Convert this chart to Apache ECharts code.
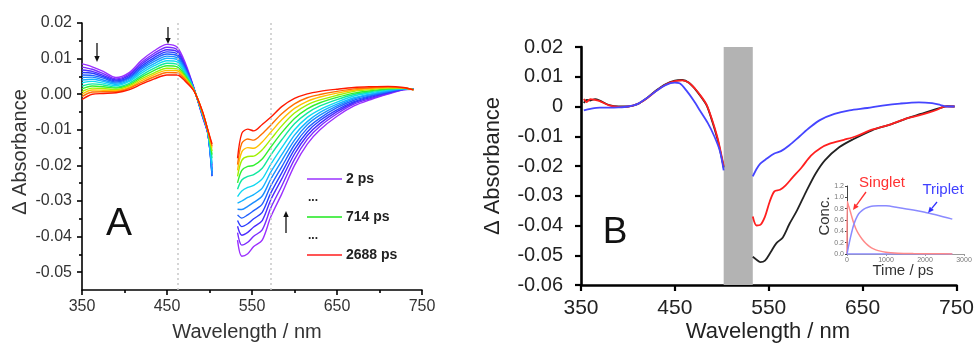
<!DOCTYPE html>
<html><head><meta charset="utf-8">
<script src="https://cdn.jsdelivr.net/npm/echarts@6/dist/echarts.min.js"></script>
<style>html,body{margin:0;padding:0;background:#fff}#c{width:977px;height:344px}</style>
</head><body><div id="c"></div>
<script>
// ---------- Panel A: transient spectra (2 ps ... 2688 ps) ----------
const wlA_L = [350,362,375,390,405,420,435,450,462,472,482,492,498,503];
const wlA_R = [533,538,545,552,562,572,585,600,615,630,650,670,690,710,728,740];
const specL = [
 [.0085,.0077,.0064,.0047,.0060,.0095,.0122,.0140,.0132,.0085,.0015,-.0065,-.0110,-.0200],
 [.0076,.0070,.0058,.0043,.0056,.0089,.0115,.0132,.0125,.0080,.0014,-.0064,-.0110,-.0210],
 [.0068,.0064,.0053,.0040,.0052,.0084,.0109,.0125,.0119,.0076,.0014,-.0062,-.0110,-.0220],
 [.0061,.0059,.0049,.0037,.0048,.0079,.0103,.0119,.0113,.0073,.0013,-.0061,-.0109,-.0230],
 [.0054,.0053,.0045,.0034,.0045,.0074,.0098,.0113,.0108,.0069,.0013,-.0060,-.0108,-.0230],
 [.0047,.0048,.0040,.0031,.0042,.0070,.0092,.0107,.0102,.0066,.0012,-.0059,-.0107,-.0225],
 [.0040,.0042,.0036,.0028,.0038,.0065,.0086,.0101,.0097,.0062,.0012,-.0058,-.0106,-.0215],
 [.0032,.0036,.0031,.0024,.0035,.0059,.0080,.0094,.0091,.0058,.0011,-.0057,-.0105,-.0195],
 [.0023,.0029,.0026,.0020,.0030,.0053,.0073,.0087,.0084,.0054,.0011,-.0056,-.0104,-.0180],
 [.0015,.0023,.0021,.0017,.0026,.0048,.0067,.0080,.0077,.0050,.0010,-.0054,-.0103,-.0170],
 [.0007,.0017,.0016,.0013,.0023,.0043,.0060,.0073,.0071,.0046,.0010,-.0053,-.0102,-.0160],
 [.0000,.0012,.0011,.0010,.0019,.0038,.0055,.0067,.0066,.0042,.0009,-.0052,-.0101,-.0150],
 [-.0007,.0006,.0007,.0007,.0016,.0033,.0049,.0061,.0060,.0039,.0009,-.0051,-.0101,-.0145],
 [-.0015,.0000,.0002,.0004,.0012,.0028,.0043,.0054,.0054,.0035,.0008,-.0050,-.0100,-.0140]
];
const specR = [
 [-.0410,-.0455,-.0448,-.0428,-.0410,-.0345,-.0280,-.0200,-.0140,-.0100,-.0062,-.0033,-.0015,.0000,.0012,.0015],
 [-.0389,-.0424,-.0416,-.0399,-.0381,-.0320,-.0258,-.0183,-.0127,-.0090,-.0055,-.0028,-.0012,.0002,.0013,.0015],
 [-.0371,-.0396,-.0388,-.0373,-.0355,-.0297,-.0238,-.0168,-.0116,-.0082,-.0049,-.0024,-.0009,.0004,.0013,.0014],
 [-.0355,-.0372,-.0364,-.0350,-.0332,-.0278,-.0221,-.0155,-.0106,-.0074,-.0044,-.0021,-.0006,.0005,.0014,.0014],
 [-.0339,-.0348,-.0339,-.0327,-.0309,-.0258,-.0204,-.0142,-.0096,-.0067,-.0038,-.0017,-.0004,.0007,.0014,.0014],
 [-.0323,-.0324,-.0315,-.0304,-.0286,-.0239,-.0187,-.0129,-.0086,-.0059,-.0033,-.0013,-.0001,.0008,.0015,.0014],
 [-.0306,-.0300,-.0290,-.0282,-.0264,-.0219,-.0170,-.0115,-.0077,-.0051,-.0028,-.0010,.0001,.0010,.0015,.0014],
 [-.0288,-.0272,-.0262,-.0256,-.0238,-.0197,-.0150,-.0100,-.0065,-.0043,-.0022,-.0005,.0004,.0012,.0016,.0013],
 [-.0267,-.0241,-.0231,-.0226,-.0208,-.0171,-.0128,-.0083,-.0053,-.0033,-.0015,-.0001,.0007,.0014,.0016,.0013],
 [-.0249,-.0214,-.0203,-.0200,-.0182,-.0149,-.0108,-.0068,-.0041,-.0024,-.0009,.0003,.0010,.0015,.0017,.0013],
 [-.0231,-.0186,-.0175,-.0174,-.0156,-.0127,-.0089,-.0053,-.0030,-.0016,-.0003,.0008,.0013,.0017,.0017,.0013],
 [-.0214,-.0162,-.0150,-.0152,-.0134,-.0107,-.0072,-.0040,-.0020,-.0008,.0003,.0011,.0016,.0019,.0018,.0012],
 [-.0198,-.0138,-.0126,-.0129,-.0111,-.0087,-.0055,-.0027,-.0010,-.0001,.0008,.0015,.0018,.0020,.0018,.0012],
 [-.0180,-.0110,-.0098,-.0103,-.0085,-.0065,-.0035,-.0012,.0001,.0008,.0014,.0019,.0021,.0022,.0019,.0012]
];
const legendA = ['2 ps','...','714 ps','...','2688 ps'];
const refLinesA = [463, 572];
const ticksAx = [350,450,550,650,750];
const minorAx = [400,500,600,700];
const ticksAy = [-0.05,-0.04,-0.03,-0.02,-0.01,0,0.01,0.02];
const minorAy = [-0.045,-0.035,-0.025,-0.015,-0.005,0.005,0.015];

// ---------- Panel B: species spectra ----------
const blackB = [[353,.0012],[356,.0022],[360,.0020],[365,.0025],[370,.0020],[380,.0005],[390,.0000],[400,.0000],[410,.0008],[420,.0028],[430,.0054],[440,.0075],[450,.0087],[458,.0089],[465,.0080],[472,.0057],[478,.0032],[484,.0003],[490,-.0052],[495,-.0105],[498,-.0145],[502,-.0205],
 null,
 [533,-.0505],[537,-.0515],[541,-.0523],[546,-.0518],[552,-.0490],[558,-.0460],[565,-.0440],[572,-.0395],[580,-.0350],[590,-.0285],[600,-.0225],[610,-.0180],[625,-.0137],[640,-.0110],[660,-.0080],[680,-.0060],[697,-.0040],[712,-.0025],[724,-.0013],[735,-.0003],[740,.0001],[748,.0000]];
const redB = [[353,.0025],[356,.0015],[360,.0025],[365,.0022],[370,.0018],[380,.0004],[390,-.0001],[400,.0000],[410,.0008],[420,.0027],[430,.0052],[440,.0073],[450,.0085],[458,.0088],[465,.0080],[472,.0058],[478,.0034],[484,.0005],[490,-.0048],[495,-.0100],[498,-.0140],[502,-.0200],
 null,
 [533,-.0370],[537,-.0400],[541,-.0398],[546,-.0370],[551,-.0320],[556,-.0285],[562,-.0280],[568,-.0265],[575,-.0240],[585,-.0205],[595,-.0165],[605,-.0140],[615,-.0125],[630,-.0112],[643,-.0100],[660,-.0078],[680,-.0060],[697,-.0040],[710,-.0030],[721,-.0020],[730,-.0010],[737,.0000],[748,.0000]];
const blueB = [[353,-.0013],[360,-.0008],[370,-.0004],[380,-.0004],[390,-.0003],[400,.0000],[410,.0008],[420,.0028],[430,.0052],[440,.0072],[450,.0080],[455,.0078],[462,.0055],[470,.0020],[477,-.0015],[485,-.0055],[492,-.0100],[498,-.0150],[502,-.0215],
 null,
 [533,-.0235],[537,-.0210],[541,-.0192],[548,-.0175],[556,-.0158],[563,-.0150],[572,-.0130],[583,-.0100],[594,-.0070],[605,-.0045],[620,-.0025],[636,-.0013],[655,-.0005],[671,.0003],[690,.0010],[710,.0014],[724,.0011],[733,.0005],[740,.0000],[748,.0000]];
const bandB = [502, 533];
const ticksBx = [350,450,550,650,750];

// ---------- Inset: concentration kinetics ----------
const tSinglet = [0,8,40,85,130,170,230,300,390,480,580,680,800,1000,1300,1700,2200,2700];
const cSinglet = [0,.93,.85,.75,.64,.55,.44,.35,.26,.19,.13,.09,.06,.03,.015,.008,.004,.002];
const tTriplet = [0,20,50,85,130,170,230,300,390,480,580,680,800,1000,1300,1700,2000,2300,2700];
const cTriplet = [0,.07,.17,.28,.41,.51,.62,.71,.77,.81,.835,.848,.852,.85,.82,.775,.735,.69,.615];
const tZero = [0,2700];
const cZero = [0,0];

// ---------- styles ----------
const FONT = "'Liberation Sans', Arial, sans-serif";
const colorsA = ['#9b30ff','#7a2cff','#4b2bff','#2b3dff','#2060ff','#1a8cff','#14b4ff','#10d8f0','#10e8a0','#30f030','#a0f000','#ffc000','#ff7000','#ff1a00'];
const legendColors = ['#b366ff',null,'#55ee55',null,'#ff5555'];

const chart = echarts.init(document.getElementById('c'), null, {renderer:'canvas'});
const series = [];
specL.forEach((row,k)=>{
  series.push({type:'line',xAxisIndex:0,yAxisIndex:0,showSymbol:false,smooth:0.3,silent:true,
    data: wlA_L.map((w,i)=>[w,row[i]]), lineStyle:{color:colorsA[k],width:1.4}, z:3});
  series.push({type:'line',xAxisIndex:0,yAxisIndex:0,showSymbol:false,smooth:0.3,silent:true,
    data: wlA_R.map((w,i)=>[w,specR[k][i]]), lineStyle:{color:colorsA[k],width:1.4}, z:3});
});
series[0].markLine = {symbol:'none',silent:true,label:{show:false},
  lineStyle:{color:'#c8c8c8',type:[2,3],width:1.5}, data: refLinesA.map(v=>({xAxis:v}))};

const toData = arr => arr.map(p => p===null ? '-' : p);
series.push({type:'line',xAxisIndex:2,yAxisIndex:2,showSymbol:false,smooth:0.3,silent:true,connectNulls:false,
  data:toData(blackB), lineStyle:{color:'#222',width:1.8}, z:3,
  markArea:{silent:true,itemStyle:{color:'#b3b3b3'},data:[[{xAxis:bandB[0]},{xAxis:bandB[1]}]]}});
series.push({type:'line',xAxisIndex:2,yAxisIndex:2,showSymbol:false,smooth:0.3,silent:true,connectNulls:false,
  data:toData(redB), lineStyle:{color:'#ff1f1f',width:1.8}, z:4});
series.push({type:'line',xAxisIndex:2,yAxisIndex:2,showSymbol:false,smooth:0.3,silent:true,connectNulls:false,
  data:toData(blueB), lineStyle:{color:'#4545ff',width:1.8}, z:4});

series.push({type:'line',xAxisIndex:3,yAxisIndex:3,showSymbol:false,smooth:0.2,silent:true,
  data:tZero.map((t,i)=>[t,cZero[i]]), lineStyle:{color:'#8a8aff',width:1.3}});
series.push({type:'line',xAxisIndex:3,yAxisIndex:3,showSymbol:false,smooth:0.2,silent:true,
  data:tSinglet.map((t,i)=>[t,cSinglet[i]]), lineStyle:{color:'#ff8a8a',width:1.5}});
series.push({type:'line',xAxisIndex:3,yAxisIndex:3,showSymbol:false,smooth:0.3,silent:true,
  data:tTriplet.map((t,i)=>[t,cTriplet[i]]), lineStyle:{color:'#8a8aff',width:1.5}});

const blk = {color:'#000',width:1.6};
const fmt2 = v => (Math.abs(v)<1e-9 ? '0.00' : v.toFixed(2));
const fmtB = v => (Math.abs(v)<1e-9 ? '0' : v.toFixed(2));

function arrow(x1,y1,x2,y2,color,head){
  const a = Math.atan2(y2-y1,x2-x1), h=head||6, w=h*0.45;
  const bx = x2 - h*Math.cos(a), by = y2 - h*Math.sin(a);
  return [
    {type:'line',shape:{x1:x1,y1:y1,x2:bx,y2:by},style:{stroke:color,lineWidth:1.3},z:100},
    {type:'polygon',shape:{points:[[x2,y2],[bx+w*Math.sin(a),by-w*Math.cos(a)],[bx-w*Math.sin(a),by+w*Math.cos(a)]]},style:{fill:color},z:100}
  ];
}
function txt(t,x,y,size,color,opts){
  return Object.assign({type:'text',x:x,y:y,z:100,style:Object.assign({text:t,fontFamily:FONT,fontSize:size,fill:color||'#222',
    align:'center',verticalAlign:'middle'},(opts&&opts.style)||{})},(opts&&opts.el)||{});
}

const graphic = [];
graphic.push(txt('Δ Absorbance',20,152,20,'#333',{el:{rotation:Math.PI/2}}));
graphic.push(txt('Wavelength / nm',247,332,20,'#333'));
graphic.push(txt('A',119,224,39,'#111'));
graphic.push(txt('Δ Absorbance',493,166,22,'#222',{el:{rotation:Math.PI/2}}));
graphic.push(txt('Wavelength / nm',768,332,22,'#222'));
graphic.push(txt('B',615,233,37,'#111'));
// legend A
const legY = [179,201,217,239,255];
legendA.forEach((t,i)=>{
  if(legendColors[i]){
    graphic.push({type:'line',shape:{x1:307,y1:legY[i],x2:342,y2:legY[i]},style:{stroke:legendColors[i],lineWidth:2},z:100});
    graphic.push(txt(t,346,legY[i],14,'#222',{style:{align:'left',fontWeight:'bold'}}));
  } else {
    graphic.push(txt(t,313,legY[i]-3,12,'#222',{style:{fontWeight:'bold'}}));
  }
});
graphic.push(...arrow(97,43,97,62,'#111'));
graphic.push(...arrow(168,27,168,44,'#111'));
graphic.push(...arrow(286,233,286,211,'#111'));
// inset annotations
graphic.push(txt('Conc.',825,216,15,'#333',{el:{rotation:Math.PI/2}}));
graphic.push(txt('Time / ps',903,271,15,'#333'));
graphic.push(txt('Singlet',882,183,15,'#ff3030'));
graphic.push(txt('Triplet',943,190,15,'#4040ff'));
graphic.push(...arrow(866,192,853,210,'#ff3030',6));
graphic.push(...arrow(937,202,928,213,'#3030ff',6));

const option = {
  animation:false,
  backgroundColor:'#fff',
  textStyle:{fontFamily:FONT},
  grid:[
    {left:82,top:23,width:340,height:267},
    {left:581,top:47,width:376,height:238},
    {left:847,top:186,width:117,height:68}
  ],
  xAxis:[
    {gridIndex:0,type:'value',position:'bottom',min:350,max:750,axisLine:{onZero:false,lineStyle:blk},
      axisTick:{customValues:ticksAx,length:5,lineStyle:blk},
      axisLabel:{customValues:ticksAx,fontSize:16,color:'#333',margin:9,fontFamily:FONT},splitLine:{show:false}},
    {gridIndex:0,type:'value',position:'bottom',min:350,max:750,axisLine:{show:false,onZero:false},
      axisTick:{customValues:minorAx,length:3,lineStyle:blk},axisLabel:{show:false},splitLine:{show:false}},
    {gridIndex:1,type:'value',position:'bottom',min:350,max:750,axisLine:{onZero:false,lineStyle:{color:'#000',width:2.6}},
      axisTick:{customValues:ticksBx,length:6,lineStyle:{color:'#000',width:2.2}},
      axisLabel:{customValues:ticksBx,fontSize:21,color:'#222',margin:13,fontFamily:FONT},splitLine:{show:false}},
    {gridIndex:2,type:'value',position:'bottom',min:0,max:3000,interval:1000,axisLine:{onZero:false,lineStyle:{color:'#999',width:1}},
      axisTick:{length:2,lineStyle:{color:'#999'}},axisLabel:{fontSize:7,color:'#777',margin:3,formatter:v=>String(v)},splitLine:{show:false}}
  ],
  yAxis:[
    {gridIndex:0,type:'value',position:'left',min:-0.055,max:0.02,axisLine:{show:true,onZero:false,lineStyle:blk},
      axisTick:{show:true,customValues:ticksAy,length:5,lineStyle:blk},
      axisLabel:{customValues:ticksAy,formatter:fmt2,fontSize:16,color:'#333',margin:10,fontFamily:FONT},splitLine:{show:false}},
    {gridIndex:0,type:'value',position:'left',min:-0.055,max:0.02,axisLine:{show:false,onZero:false},
      axisTick:{show:true,customValues:minorAy,length:3,lineStyle:blk},axisLabel:{show:false},splitLine:{show:false}},
    {gridIndex:1,type:'value',position:'left',min:-0.06,max:0.02,interval:0.01,axisLine:{show:true,onZero:false,lineStyle:{color:'#000',width:2.6}},
      axisTick:{show:true,length:6,lineStyle:{color:'#000',width:2.2}},
      axisLabel:{formatter:fmtB,fontSize:20,color:'#222',margin:18,fontFamily:FONT},splitLine:{show:false}},
    {gridIndex:2,type:'value',position:'left',min:0,max:1.2,interval:0.2,axisLine:{show:true,onZero:false,lineStyle:{color:'#444',width:1}},
      axisTick:{show:true,length:2,lineStyle:{color:'#444'}},
      axisLabel:{formatter:v=>v.toFixed(1),fontSize:7,color:'#777',margin:3},splitLine:{show:false}}
  ],
  series:series,
  graphic:graphic
};
chart.setOption(option);
</script></body></html>
